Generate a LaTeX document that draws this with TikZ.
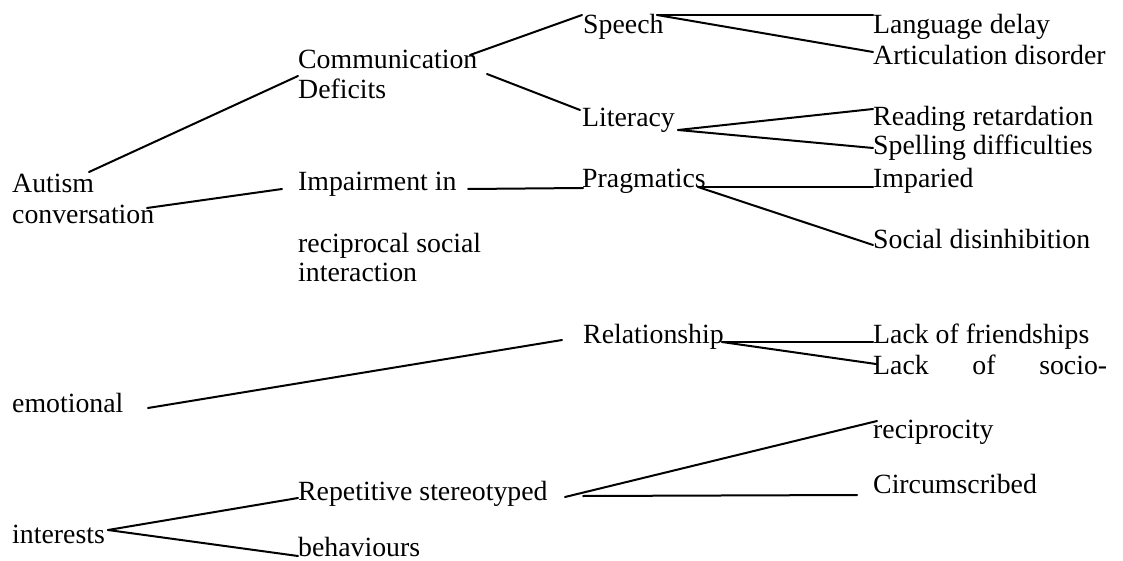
\documentclass[tikz,border=0pt]{standalone}
\usepackage{fontspec}
\setmainfont{Liberation Serif}
\begin{document}
\begin{tikzpicture}[x=1pt,y=-1pt,
  lbl/.style={anchor=base west,inner sep=0pt,font=\fontsize{27.8}{31}\selectfont},
  link/.style={line width=2pt,line cap=round}]
\useasboundingbox (0,0) rectangle (1123,561);
% column 1
\node[lbl] (auto) at (12,193) {Autism};
\node[lbl] (conv) at (12,223) {conversation};
\node[lbl] (emo) at (12,412) {emotional};
\node[lbl] (int) at (12,543) {interests};
% column 2
\node[lbl] (comm) at (298,69) {Communication};
\node[lbl] (def) at (298,99) {Deficits};
\node[lbl] (imp) at (298,191) {Impairment in};
\node[lbl] (rec) at (298,252) {reciprocal social};
\node[lbl] (inter) at (298,281) {interaction};
\node[lbl] (rep) at (298,500) {Repetitive stereotyped};
\node[lbl] (beh) at (298,556) {behaviours};
% column 3
\node[lbl] (speech) at (583,34) {Speech};
\node[lbl] (lit) at (582,127) {Literacy};
\node[lbl] (prag) at (582,188) {Pragmatics};
\node[lbl] (rel) at (583,343) {Relationship};
% column 4
\node[lbl] (lang) at (873,34) {Language delay};
\node[lbl] (art) at (873,65) {Articulation disorder};
\node[lbl] (read) at (873,126) {Reading retardation};
\node[lbl] (spell) at (873,155) {Spelling difficulties};
\node[lbl] (imparied) at (873,188) {Imparied};
\node[lbl] (social) at (873,248) {Social disinhibition};
\node[lbl] (lfr) at (873,343) {Lack of friendships};
\node[lbl] (lsoc) at (873,374) {\makebox[234pt][s]{Lack\hfill of\hfill socio-}};
\node[lbl] (recip) at (873,438) {reciprocity};
\node[lbl] (circ) at (873,493) {Circumscribed};
% connectors
\draw[link] ([shift={(77,-21)}]auto.base west) -- ([shift={(0,7)}]comm.base west);
\draw[link] ([shift={(135,-15)}]conv.base west) -- ([shift={(-16,-2)}]imp.base west);
\draw[link] ([shift={(172,-14)}]comm.base west) -- ([shift={(-1,-19)}]speech.base west);
\draw[link] ([shift={(189,5)}]comm.base west) -- ([shift={(-2,-17)}]lit.base west);
\draw[link] ([shift={(74,-19)}]speech.base west) -- ([shift={(0,-19)}]lang.base west);
\draw[link] ([shift={(74,-19)}]speech.base west) -- ([shift={(0,-13)}]art.base west);
\draw[link] ([shift={(96,3)}]lit.base west) -- ([shift={(0,-17)}]read.base west);
\draw[link] ([shift={(96,3)}]lit.base west) -- ([shift={(0,-7)}]spell.base west);
\draw[link] ([shift={(170,-2)}]imp.base west) -- ([shift={(1,0)}]prag.base west);
\draw[link] ([shift={(116,-1)}]prag.base west) -- ([shift={(0,-1)}]imparied.base west);
\draw[link] ([shift={(116,-1)}]prag.base west) -- ([shift={(0,-3)}]social.base west);
\draw[link] ([shift={(136,-4)}]emo.base west) -- ([shift={(-21,-3)}]rel.base west);
\draw[link] ([shift={(139,-1)}]rel.base west) -- ([shift={(0,-1)}]lfr.base west);
\draw[link] ([shift={(139,-1)}]rel.base west) -- ([shift={(3,-10)}]lsoc.base west);
\draw[link] ([shift={(267,-3)}]rep.base west) -- ([shift={(4,-17)}]recip.base west);
\draw[link] ([shift={(285,-4)}]rep.base west) -- ([shift={(-16,2)}]circ.base west);
\draw[link] ([shift={(96,-13)}]int.base west) -- ([shift={(0,-2)}]rep.base west);
\draw[link] ([shift={(96,-13)}]int.base west) -- (beh.base west);
\end{tikzpicture}
\end{document}
